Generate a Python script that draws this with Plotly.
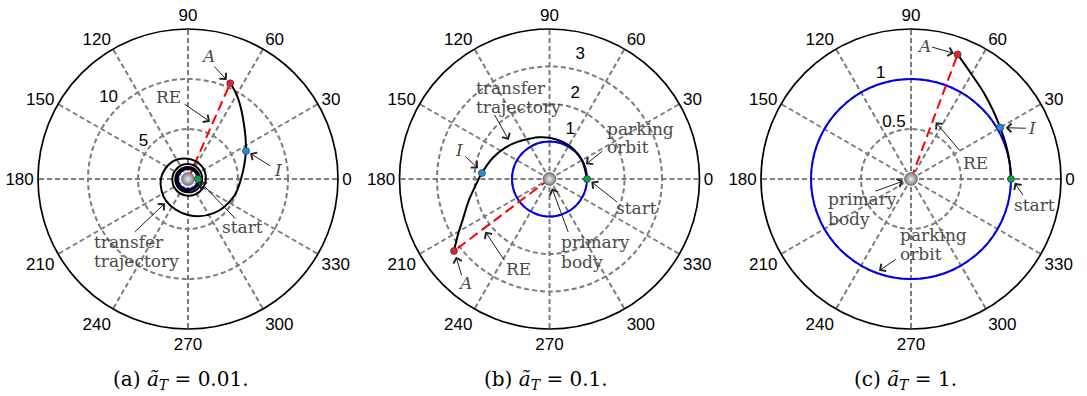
import plotly.graph_objects as go

W, H = 1087, 396

# ---------------- data ----------------
# (a) a_T = 0.01 : slow escape spiral (cumulative angle in degrees, radius)
theta_a = [0, 45, 90, 135, 180, 225, 270, 315,
           360, 405, 450, 495, 540, 585, 630, 675,
           720, 765, 810, 855, 900, 945, 990, 1035,
           1080, 1125, 1170, 1215, 1260, 1305, 1350, 1387, 1419, 1440, 1466, 1487, 1499, 1506]
r_a = [1.00, 1.02, 1.04, 1.06, 1.08, 1.10, 1.12, 1.14,
       1.17, 1.19, 1.21, 1.24, 1.27, 1.30, 1.33, 1.37,
       1.41, 1.45, 1.49, 1.53, 1.57, 1.62, 1.67, 1.72,
       1.78, 1.88, 2.02, 2.35, 2.72, 3.10, 3.60, 4.28, 4.90, 5.30, 6.44, 8.10, 9.60, 10.46]

# (b) a_T = 0.1
theta_b = [0, 30, 50, 70, 90, 105, 115, 130, 145, 160, 175, 185, 195, 205, 211, 217]
r_b = [1.00, 1.00, 1.02, 1.05, 1.10, 1.15, 1.19, 1.30, 1.45, 1.62, 1.81, 1.98, 2.23, 2.55, 2.84, 3.19]

# (c) a_T = 1
theta_c = [0, 10, 20, 30, 40, 50, 60, 69.5]
r_c = [1.00, 1.00, 1.01, 1.03, 1.07, 1.13, 1.21, 1.33]

# event points: start, I, A  (theta, r)
start_pt = {"a": (0, 1.0), "b": (0, 1.0), "c": (0, 1.0)}
i_pt = {"a": (25.8, 6.44), "b": (175, 1.81), "c": (30, 1.03)}
a_pt = {"a": (66.2, 10.46), "b": (217, 3.19), "c": (69.5, 1.33)}

parking_radius = 1.0
orbit_theta = list(range(0, 361, 10))

r_max = {"a": 15, "b": 4, "c": 1.5}
r_ticks = {"a": [5, 10], "b": [1, 2, 3], "c": [0.5, 1]}
# radial tick label placement (r, theta) and text
r_tick_labels = {
    "a": ([5.8, 11.39], [140, 134.2], ["5", "10"]),
    "b": ([1.42, 2.37, 3.41], [67.2, 73.2, 76.1], ["1", "2", "3"]),
    "c": ([0.592, 1.093], [106.7, 106.1], ["0.5", "1"]),
}
captions = {"a": "0.01", "b": "0.1", "c": "1"}

traj = {"a": (theta_a, r_a), "b": (theta_b, r_b), "c": (theta_c, r_c)}
subplot_of = {"a": "polar", "b": "polar2", "c": "polar3"}
centers = {"a": 188.0, "b": 549.5, "c": 911.0}
CY = 179.0
RPX = 150.0

GRID = "#7c7c7c"
TXT = "#4a4a4a"
SERIF = "DejaVu Serif"
SANS = "Liberation Sans, Arial"

fig = go.Figure()

for k in ["a", "b", "c"]:
    sp = subplot_of[k]
    # parking orbit
    fig.add_trace(go.Scatterpolar(
        r=[parking_radius] * len(orbit_theta), theta=orbit_theta, mode="lines",
        line=dict(color="#0000ee", width=2, shape="spline"), subplot=sp,
        hoverinfo="skip"))
    # radius vector to A
    fig.add_trace(go.Scatterpolar(
        r=[0, a_pt[k][1]], theta=[a_pt[k][0], a_pt[k][0]], mode="lines",
        line=dict(color="#ff0000", width=2, dash="10px,5px"), subplot=sp,
        hoverinfo="skip"))
    # transfer trajectory
    th, rr = traj[k]
    fig.add_trace(go.Scatterpolar(
        r=rr, theta=th, mode="lines",
        line=dict(color="black", width=2, shape="spline"), subplot=sp,
        hoverinfo="skip"))
    # primary body
    fig.add_trace(go.Scatterpolar(
        r=[0], theta=[0], mode="markers",
        marker=dict(size=13, color="#7a7a7a",
                    gradient=dict(type="radial", color="#ececec"),
                    line=dict(color="#555555", width=0.6)),
        subplot=sp, hoverinfo="skip"))
    # event markers
    for pt, col in [(start_pt[k], "#12a04a"), (i_pt[k], "#1e90d8"), (a_pt[k], "#e8202a")]:
        fig.add_trace(go.Scatterpolar(
            r=[pt[1]], theta=[pt[0]], mode="markers",
            marker=dict(size=7, color=col, line=dict(color="#333333", width=0.7)),
            subplot=sp, hoverinfo="skip"))
    # radial tick labels
    lr, lt, ltxt = r_tick_labels[k]
    fig.add_trace(go.Scatterpolar(
        r=lr, theta=lt, mode="text", text=ltxt,
        textfont=dict(family=SANS, size=17, color="black"),
        subplot=sp, hoverinfo="skip"))

polar_common = dict(
    bgcolor="white",
    angularaxis=dict(
        direction="counterclockwise", rotation=0,
        tickmode="array", tickvals=list(range(0, 360, 30)),
        ticktext=[str(v) for v in range(0, 360, 30)],
        ticks="", showline=True, linecolor="black", linewidth=1.7,
        showgrid=True, gridcolor=GRID, gridwidth=1.5, griddash="5px,3px",
        tickfont=dict(family=SANS, size=17, color="black"),
    ),
)

for k in ["a", "b", "c"]:
    cx = centers[k]
    dom_x = [(cx - RPX) / W, (cx + RPX) / W]
    dom_y = [1 - (CY + RPX) / H, 1 - (CY - RPX) / H]
    radial = dict(range=[0, r_max[k]], tickmode="array", tickvals=r_ticks[k],
                  showticklabels=False, showline=False, ticks="",
                  showgrid=True, gridcolor=GRID, gridwidth=1.5, griddash="5px,3px")
    fig.layout[subplot_of[k]] = dict(domain=dict(x=dom_x, y=dom_y),
                                     radialaxis=radial, **polar_common)

annotations = []


def paper(x, y):
    return x / W, 1 - y / H


def label(x, y, text, anchor="left", italic=False):
    px, py = paper(x, y)
    t = f"<i>{text}</i>" if italic else text
    annotations.append(dict(x=px, y=py, xref="paper", yref="paper", text=t,
                            showarrow=False, xanchor=anchor, yanchor="middle",
                            font=dict(family=SERIF, size=17, color=TXT)))


def arrow(tip, tail):
    px, py = paper(*tip)
    annotations.append(dict(x=px, y=py, xref="paper", yref="paper", text="",
                            showarrow=True, axref="pixel", ayref="pixel",
                            ax=tail[0] - tip[0], ay=tail[1] - tip[1],
                            arrowhead=4, arrowsize=1.7, arrowwidth=1,
                            arrowcolor="#222222", standoff=0, startstandoff=0))


# (a)
label(208.3, 56, "A", "center", italic=True); arrow((226.7, 80), (213, 65))
label(168.3, 96.7, "RE", "center"); arrow((210, 121.7), (183, 103))
label(277.7, 170, "I", "center", italic=True); arrow((250, 153.3), (271.7, 166.7))
label(242.7, 226.7, "start", "center"); arrow((200, 181.7), (236.7, 220))
label(91.7, 242, "transfer"); label(91.7, 260.5, "trajectory")
arrow((165, 203.3), (133.3, 233.3))

# (b)
label(473.7, 88, "transfer"); label(473.7, 106.5, "trajectory")
arrow((508.7, 140), (493.7, 113.3))
label(458.7, 150, "I", "center", italic=True); arrow((478, 168.3), (463.7, 155))
label(605.3, 129, "parking"); label(605.3, 147.5, "orbit")
arrow((586, 164.3), (603.7, 150))
label(614.3, 208.3, "start"); arrow((591.3, 181.7), (618.7, 203.3))
label(558.7, 242.3, "primary"); label(558.7, 261.7, "body")
arrow((552, 188.3), (568.7, 233.3))
label(518.7, 269.3, "RE", "center"); arrow((485.3, 231.7), (505.3, 261.7))
label(464.7, 283.3, "A", "center", italic=True); arrow((456, 256.7), (462, 276.7))

# (c)
label(924, 46, "A", "center", italic=True); arrow((954, 53.3), (930.7, 46.7))
label(1032.3, 128.3, "I", "center", italic=True); arrow((1005.7, 127.7), (1027.3, 128.3))
label(975.7, 162.7, "RE", "center"); arrow((935.7, 122.3), (960.7, 151.7))
label(1034.7, 205, "start", "center"); arrow((1014.7, 182.7), (1024, 196.7))
label(825.7, 199, "primary"); label(825.7, 219, "body")
arrow((903.3, 181), (874, 191.7))
label(898, 235, "parking"); label(898, 254, "orbit")
arrow((879, 270.7), (897.3, 258.3))

# captions
for k, cx in zip(["a", "b", "c"], [181, 546, 905]):
    px, py = paper(cx, 380)
    annotations.append(dict(
        x=px, y=py, xref="paper", yref="paper", showarrow=False,
        xanchor="center", yanchor="middle",
        text=f"({k}) <i>ã</i><sub><i>T</i></sub> = {captions[k]}.",
        font=dict(family=SERIF, size=20, color="black")))

fig.update_layout(
    width=W, height=H, margin=dict(l=0, r=0, t=0, b=0),
    paper_bgcolor="white", plot_bgcolor="white", showlegend=False,
    annotations=annotations,
)

fig.write_html("out.html")
